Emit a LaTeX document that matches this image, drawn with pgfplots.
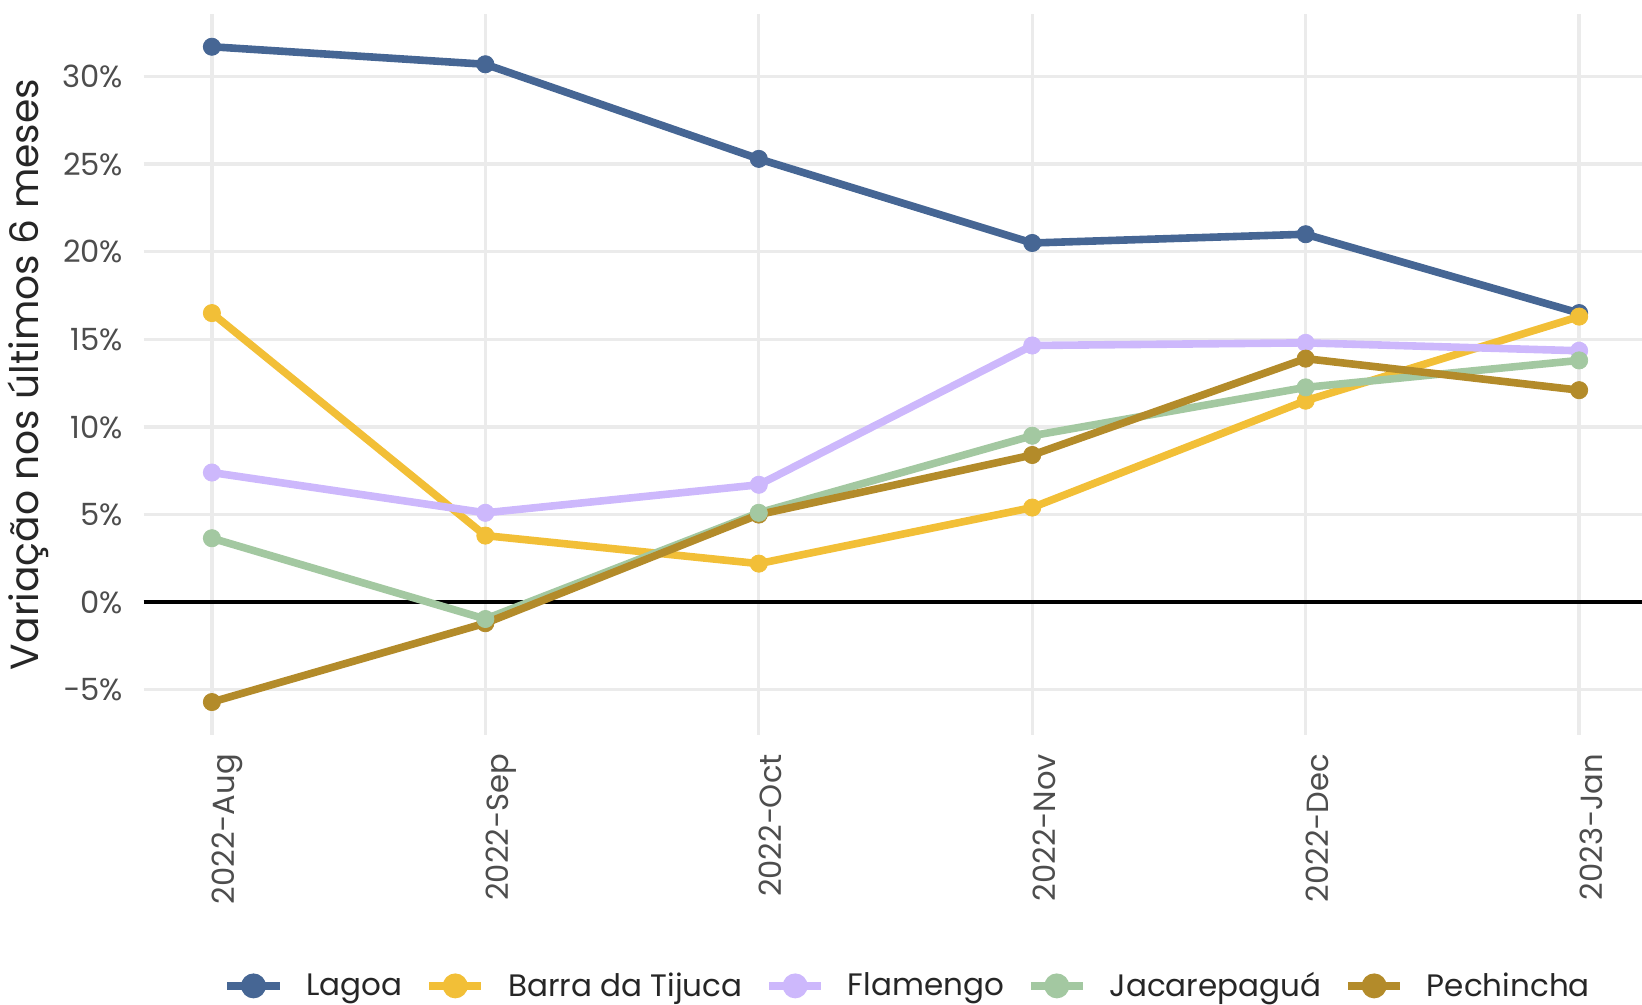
\documentclass[border=0pt]{standalone}
\usepackage{pgfplots}
\pgfplotsset{compat=1.18}
\usepackage{fontspec}
\setmainfont{Poppins}
\definecolor{cLag}{HTML}{466694}
\definecolor{cBar}{HTML}{F2BF37}
\definecolor{cFla}{HTML}{CDB8FC}
\definecolor{cJac}{HTML}{A3C8A1}
\definecolor{cPec}{HTML}{B38B2A}
\definecolor{gridc}{HTML}{EBEBEB}
\definecolor{txt}{HTML}{4D4D4D}
\pgfplotstableread{
x Lag Bar Fla Jac Pec
0 31.7 16.5 7.4 3.65 -5.7
1 30.7 3.8 5.1 -0.96 -1.2
2 25.3 2.2 6.7 5.1 5.0
3 20.5 5.4 14.65 9.5 8.4
4 21.0 11.5 14.8 12.26 13.9
5 16.5 16.3 14.35 13.8 12.1
}\datatab
\begin{document}
\begin{tikzpicture}
\path[use as bounding box] (-71.75pt,-134.7pt) rectangle (749pt,367.3pt);
\begin{axis}[
  scale only axis, width=749pt, height=360.3pt,
  at={(0,0)}, anchor=south west,
  xmin=-0.25, xmax=5.23, ymin=-7.57, ymax=33.57,
  xtick={0,1,2,3,4,5},
  xticklabels={2022−Aug,2022−Sep,2022−Oct,2022−Nov,2022−Dec,2023−Jan},
  ytick={-5,0,5,10,15,20,25,30},
  yticklabels={−5\%,0\%,5\%,10\%,15\%,20\%,25\%,30\%},
  major tick length=0pt,
  axis line style={draw=none},
  grid=major,
  major grid style={gridc, line width=1.65pt},
  tick label style={font=\fontsize{15.3}{17}\selectfont, text=txt},
  xticklabel style={rotate=90, anchor=north east, inner sep=0pt},
  yticklabel style={anchor=east, inner sep=0pt},
  xticklabel shift=9.5pt,
  yticklabel shift=10pt,
  ylabel={Variação nos últimos 6 meses},
  every axis y label/.style={at={(axis description cs:0,0.5)}, rotate=90, anchor=center, yshift=57.75pt, font=\fontsize{19.6}{22}\selectfont, text=black!85},
  legend columns=5,
  legend style={at={(axis description cs:0.5107,0)}, anchor=center, yshift=-125.5pt, draw=none, fill=none, font=\fontsize{15.5}{18}\selectfont, text=black!85,
    /tikz/every odd column/.append style={column sep=9.5pt},
    /tikz/every even column/.append style={column sep=9.5pt}},
  legend image code/.code={\draw[#1, mark repeat=2, mark phase=2] plot coordinates {(0pt,0pt) (13pt,0pt) (26pt,0pt)};},
  clip=true,
]
\draw[black, line width=2pt] (axis cs:-0.25,0) -- (axis cs:5.23,0);
\pgfplotsset{lstyle/.style={line width=3.8pt, no marks, forget plot},
  pstyle/.style={only marks, mark=*, mark size=4.3pt, forget plot, mark options={fill=#1, draw=#1}, color=#1}}
\addplot[cLag, lstyle] table[x=x,y=Lag]{\datatab};
\addplot[cBar, lstyle] table[x=x,y=Bar]{\datatab};
\addplot[cFla, lstyle] table[x=x,y=Fla]{\datatab};
\addplot[cJac, lstyle] table[x=x,y=Jac]{\datatab};
\addplot[cPec, lstyle] table[x=x,y=Pec]{\datatab};
\addplot[pstyle=cLag] table[x=x,y=Lag]{\datatab};
\addplot[pstyle=cBar] table[x=x,y=Bar]{\datatab};
\addplot[pstyle=cFla] table[x=x,y=Fla]{\datatab};
\addplot[pstyle=cPec] table[x=x,y=Pec]{\datatab};
\addplot[pstyle=cJac] table[x=x,y=Jac]{\datatab};
\addlegendimage{cLag, line width=3.8pt, mark=*, mark size=4.3pt, mark options={fill=cLag}}
\addlegendentry{Lagoa}
\addlegendimage{cBar, line width=3.8pt, mark=*, mark size=4.3pt, mark options={fill=cBar}}
\addlegendentry{Barra da Tijuca}
\addlegendimage{cFla, line width=3.8pt, mark=*, mark size=4.3pt, mark options={fill=cFla}}
\addlegendentry{Flamengo}
\addlegendimage{cJac, line width=3.8pt, mark=*, mark size=4.3pt, mark options={fill=cJac}}
\addlegendentry{Jacarepaguá}
\addlegendimage{cPec, line width=3.8pt, mark=*, mark size=4.3pt, mark options={fill=cPec}}
\addlegendentry{Pechincha}
\end{axis}
\end{tikzpicture}
\end{document}
